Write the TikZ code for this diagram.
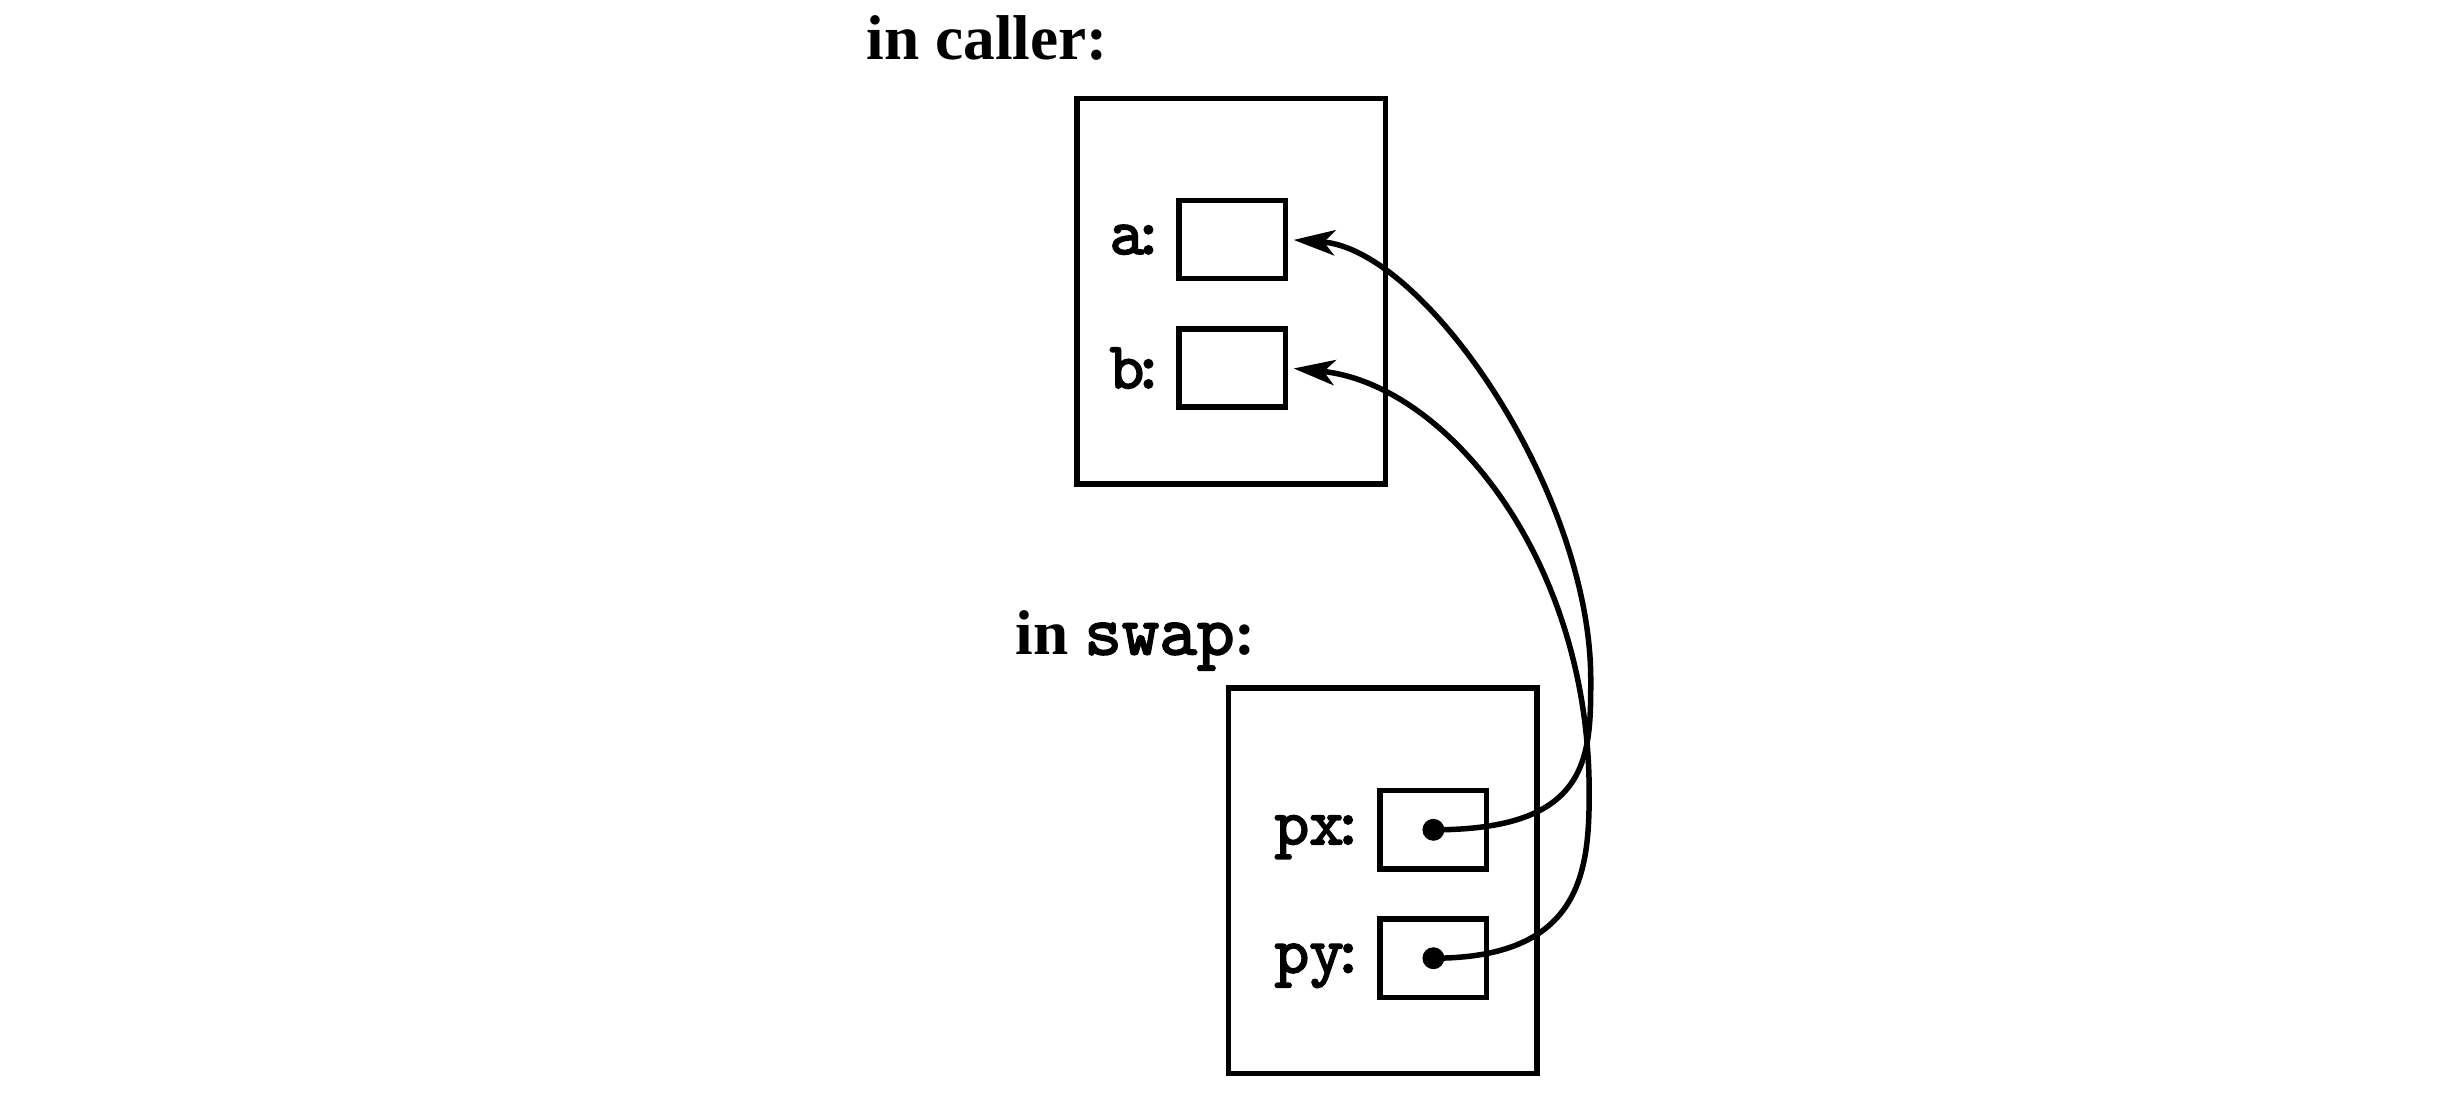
\documentclass[tikz,border=0pt]{standalone}
\usepackage{fontspec}
\setmainfont{Liberation Serif}
\newfontfamily\codefont{lmmono10-regular.otf}[FakeBold=2.5,AutoFakeBold=2.5]
\usetikzlibrary{arrows.meta,positioning}

\begin{document}
\begin{tikzpicture}[
    frame/.style={draw,line width=1pt,minimum width=1.97cm,minimum height=2.46cm},
    cell/.style={draw,line width=1pt,minimum width=0.68cm,minimum height=0.5cm},
    var/.style={font=\fontsize{12}{14}\selectfont\codefont,inner sep=0pt,text depth=0pt},
    head/.style={font=\fontsize{11.5}{13}\selectfont\bfseries,inner sep=0pt,anchor=base west},
    ptr/.style={line width=1pt,-{Stealth[length=7.5pt,width=4.6pt,inset=2pt]},shorten >=1pt}]
    \useasboundingbox (0,0) rectangle (15.68,7.04);
    % caller frame
    \node[head] (hcaller) at (5.53,6.66) {in caller:};
    \node[frame] (caller) at (7.865,5.18) {};
    \node[cell] (a) at (7.87,5.51) {};
    \node[cell] (b) at (7.87,4.69) {};
    \node[var,left=0.06cm of a] (la) {a\kern-.2em:};
    \node[var,left=0.06cm of b] (lb) {b\kern-.2em:};
    % swap frame
    \node[head] (hswap) at (6.48,2.86) {in {\fontsize{13}{15}\selectfont\codefont swap}:};
    \node[frame] (swap) at (8.83,1.415) {};
    \node[cell] (px) at (9.155,1.74) {};
    \node[cell] (py) at (9.155,0.92) {};
    \node[var,left=0.07cm of px] (lpx) {px\kern-.2em:};
    \node[var,left=0.07cm of py] (lpy) {py\kern-.2em:};
    % pointers
    \fill (px.center) circle (0.07);
    \fill (py.center) circle (0.07);
    \coordinate (turna) at (10.16,2.70);
    \coordinate (turnb) at (10.15,1.98);
    \draw[ptr] (px.center) .. controls +(1.0,0) and +(0,-0.5) .. (turna)
        .. controls +(0,1.2) and +(0.87,-0.06) .. (a.east);
    \draw[ptr] (py.center) .. controls +(0.95,0) and +(0,-0.5) .. (turnb)
        .. controls +(0,1.5) and +(1.0,-0.1) .. (b.east);
\end{tikzpicture}
\end{document}
